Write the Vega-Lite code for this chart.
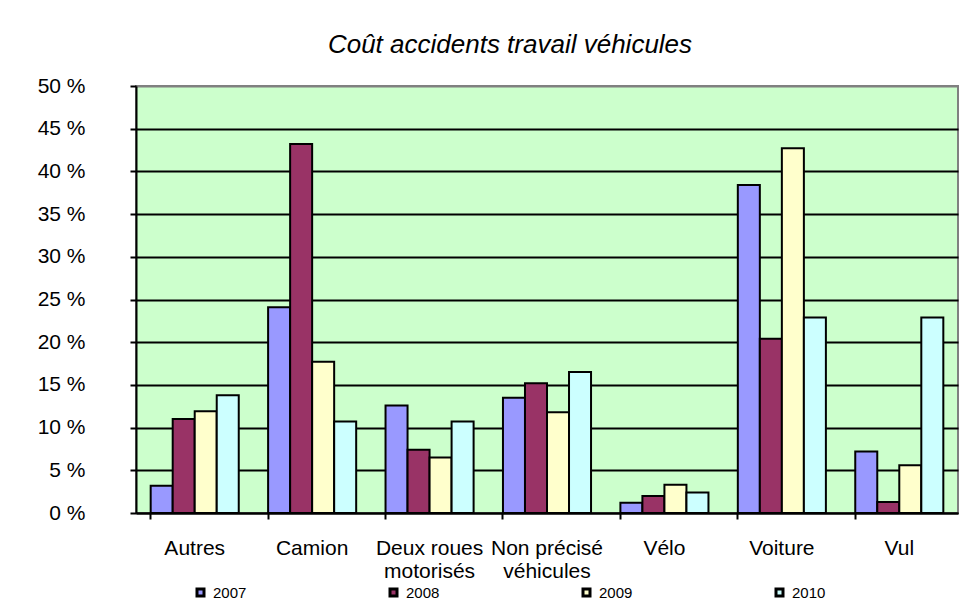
{
  "$schema": "https://vega.github.io/schema/vega-lite/v6.json",
  "width": 822,
  "height": 427,
  "autosize": {"type": "none"},
  "padding": {"left": 136, "top": 86, "right": 17, "bottom": 90},
  "background": "white",
  "title": {"text": "Coût accidents travail véhicules", "font": "Liberation Sans", "fontSize": 26, "fontStyle": "italic", "fontWeight": "normal", "color": "black", "anchor": "middle", "offset": 17, "dx": -37},
  "data": {"values": [
    {"cat": "Autres", "year": "2007", "v": 3.2},
    {"cat": "Autres", "year": "2008", "v": 11.0},
    {"cat": "Autres", "year": "2009", "v": 11.9},
    {"cat": "Autres", "year": "2010", "v": 13.8},
    {"cat": "Camion", "year": "2007", "v": 24.1},
    {"cat": "Camion", "year": "2008", "v": 43.2},
    {"cat": "Camion", "year": "2009", "v": 17.7},
    {"cat": "Camion", "year": "2010", "v": 10.7},
    {"cat": "Deux roues motorisés", "year": "2007", "v": 12.6},
    {"cat": "Deux roues motorisés", "year": "2008", "v": 7.4},
    {"cat": "Deux roues motorisés", "year": "2009", "v": 6.5},
    {"cat": "Deux roues motorisés", "year": "2010", "v": 10.7},
    {"cat": "Non précisé véhicules", "year": "2007", "v": 13.5},
    {"cat": "Non précisé véhicules", "year": "2008", "v": 15.2},
    {"cat": "Non précisé véhicules", "year": "2009", "v": 11.8},
    {"cat": "Non précisé véhicules", "year": "2010", "v": 16.5},
    {"cat": "Vélo", "year": "2007", "v": 1.2},
    {"cat": "Vélo", "year": "2008", "v": 2.0},
    {"cat": "Vélo", "year": "2009", "v": 3.3},
    {"cat": "Vélo", "year": "2010", "v": 2.4},
    {"cat": "Voiture", "year": "2007", "v": 38.4},
    {"cat": "Voiture", "year": "2008", "v": 20.4},
    {"cat": "Voiture", "year": "2009", "v": 42.7},
    {"cat": "Voiture", "year": "2010", "v": 22.9},
    {"cat": "Vul", "year": "2007", "v": 7.2},
    {"cat": "Vul", "year": "2008", "v": 1.3},
    {"cat": "Vul", "year": "2009", "v": 5.6},
    {"cat": "Vul", "year": "2010", "v": 22.9}
  ]},
  "mark": {"type": "bar", "stroke": "black", "strokeWidth": 2},
  "encoding": {
    "x": {
      "field": "cat", "type": "nominal",
      "sort": ["Autres", "Camion", "Deux roues motorisés", "Non précisé véhicules", "Vélo", "Voiture", "Vul"],
      "scale": {"paddingInner": 0.25, "paddingOuter": 0.125},
      "axis": {
        "title": null, "labelAngle": 0, "bandPosition": 0,
        "domainColor": "black", "domainWidth": 2,
        "tickColor": "black", "tickWidth": 2, "tickSize": 6,
        "labelFont": "Liberation Sans", "labelFontSize": 21, "labelColor": "black",
        "labelPadding": 18, "labelLineHeight": 23, "labelLimit": 300,
        "labelExpr": "datum.value == 'Deux roues motorisés' ? ['Deux roues', 'motorisés'] : datum.value == 'Non précisé véhicules' ? ['Non précisé', 'véhicules'] : datum.value"
      }
    },
    "xOffset": {"field": "year", "type": "nominal", "sort": ["2007", "2008", "2009", "2010"]},
    "y": {
      "field": "v", "type": "quantitative",
      "scale": {"domain": [0, 50], "nice": false},
      "axis": {
        "title": null,
        "values": [0, 5, 10, 15, 20, 25, 30, 35, 40, 45, 50],
        "labelExpr": "datum.value + ' %'",
        "domainColor": "black", "domainWidth": 2,
        "tickColor": "black", "tickWidth": 2, "tickSize": 6,
        "labelFont": "Liberation Sans", "labelFontSize": 21, "labelColor": "black",
        "labelPadding": 45,
        "grid": true,
        "gridColor": {"condition": {"test": "datum.value == 50", "value": "#808080"}, "value": "black"},
        "gridWidth": 2
      }
    },
    "color": {
      "field": "year", "type": "nominal",
      "scale": {"domain": ["2007", "2008", "2009", "2010"], "range": ["#9999FF", "#993366", "#FFFFCC", "#CCFFFF"]},
      "legend": {
        "title": null, "orient": "none", "legendX": 57, "legendY": 499,
        "direction": "horizontal", "columns": 4, "columnPadding": 137,
        "symbolType": "square", "symbolSize": 49, "symbolStrokeColor": "black", "symbolStrokeWidth": 3,
        "labelFont": "Liberation Sans", "labelFontSize": 15, "labelColor": "black", "labelOffset": 5
      }
    }
  },
  "config": {
    "view": {"fill": "#CCFFCC", "stroke": "#808080", "strokeWidth": 2}
  }
}
